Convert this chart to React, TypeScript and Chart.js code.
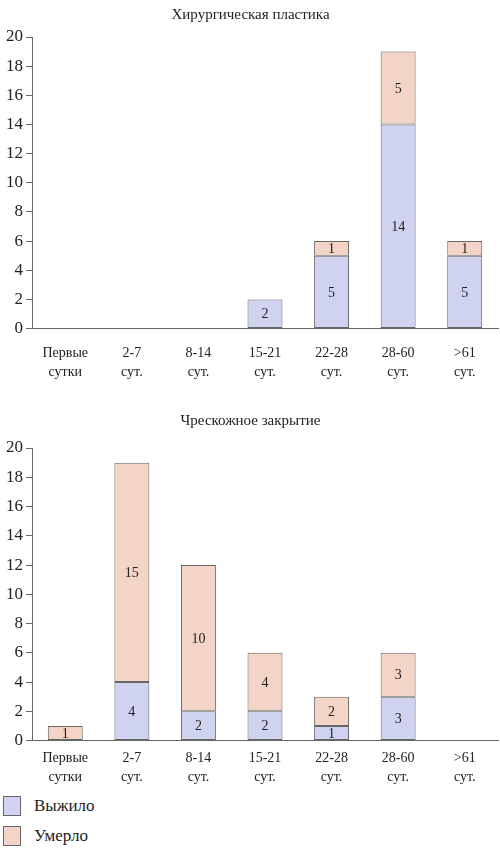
import React, { useEffect, useRef } from "react";
import { Chart, registerables } from "chart.js";

Chart.register(...registerables);

const categories = [
  ["Первые", "сутки"],
  ["2-7", "сут."],
  ["8-14", "сут."],
  ["15-21", "сут."],
  ["22-28", "сут."],
  ["28-60", "сут."],
  [">61", "сут."],
];

const plasticSurvived = [0, 0, 0, 2, 5, 14, 5];
const plasticDied = [0, 0, 0, 0, 1, 5, 1];

const closureSurvived = [0, 4, 2, 2, 1, 3, 0];
const closureDied = [1, 15, 10, 4, 2, 3, 0];

const yTicks = [0, 2, 4, 6, 8, 10, 12, 14, 16, 18, 20];

const FONT = "'Liberation Serif', 'DejaVu Serif', serif";
const BLUE = "#d0d3ef";
const PINK = "#f3d4c7";
const EDGE = "#666";

const barLabels = {
  id: "barLabels",
  afterDatasetsDraw(chart: any) {
    const ctx = chart.ctx;
    ctx.save();
    ctx.font = `14px ${FONT}`;
    ctx.fillStyle = "#222";
    ctx.textAlign = "center";
    ctx.textBaseline = "middle";
    chart.data.datasets.forEach((ds: any, i: number) => {
      chart.getDatasetMeta(i).data.forEach((bar: any, j: number) => {
        const v = ds.data[j];
        if (!v) return;
        ctx.fillText(String(v), bar.x, (bar.y + bar.base) / 2 + 1);
      });
    });
    ctx.restore();
  },
};

interface StackProps {
  title: string;
  survived: number[];
  died: number[];
  titlePad: { top: number; bottom: number };
  labelPad: number;
}

const StackChart: React.FC<StackProps> = ({ title, survived, died, titlePad, labelPad }) => {
  const canvasRef = useRef<HTMLCanvasElement | null>(null);
  const chartRef = useRef<Chart | null>(null);

  useEffect(() => {
    const ctx = canvasRef.current?.getContext("2d");
    if (!ctx) return;
    if (chartRef.current) chartRef.current.destroy();

    const edgeWidth = (c: any) => (c.raw ? 1 : 0);

    chartRef.current = new Chart(ctx, {
      type: "bar",
      data: {
        labels: categories,
        datasets: [
          {
            label: "Выжило",
            data: survived,
            backgroundColor: BLUE,
            borderColor: EDGE,
            borderWidth: edgeWidth,
            borderSkipped: false,
          },
          {
            label: "Умерло",
            data: died,
            backgroundColor: PINK,
            borderColor: EDGE,
            borderWidth: edgeWidth,
            borderSkipped: false,
          },
        ],
      },
      options: {
        animation: false,
        responsive: true,
        maintainAspectRatio: false,
        layout: { padding: { left: 3, right: 2, top: 0, bottom: 0 } },
        datasets: { bar: { barPercentage: 0.525, categoryPercentage: 1 } },
        plugins: {
          legend: { display: false },
          tooltip: { enabled: false },
          title: {
            display: true,
            text: title,
            color: "#222",
            font: { family: FONT, size: 15, weight: "normal" },
            padding: titlePad,
          },
        },
        scales: {
          x: {
            stacked: true,
            grid: { display: false, drawTicks: false },
            border: { display: true, color: "#666", width: 1 },
            ticks: {
              color: "#222",
              padding: labelPad,
              font: { family: FONT, size: 14, lineHeight: 1.3 },
              maxRotation: 0,
              autoSkip: false,
            },
          },
          y: {
            stacked: true,
            min: 0,
            max: 20,
            afterBuildTicks: (axis: any) => {
              axis.ticks = yTicks.map((v) => ({ value: v }));
            },
            grid: { drawOnChartArea: false, drawTicks: true, tickLength: 6, color: "#666" },
            border: { display: true, color: "#666", width: 1 },
            ticks: {
              color: "#222",
              padding: 3,
              font: { family: FONT, size: 17 },
            },
          },
        },
      },
      plugins: [barLabels],
    });

    return () => {
      if (chartRef.current) {
        chartRef.current.destroy();
        chartRef.current = null;
      }
    };
  }, [title, survived, died]);

  return <canvas ref={canvasRef}></canvas>;
};

const LegendItem: React.FC<{ color: string; text: string; top: number }> = ({ color, text, top }) => (
  <div style={{ position: "absolute", left: 3, top, height: 20, display: "flex", alignItems: "center" }}>
    <div style={{ width: 16, height: 18, background: color, border: `1px solid ${EDGE}` }} />
    <span style={{ marginLeft: 13, fontFamily: FONT, fontSize: 17, color: "#222" }}>{text}</span>
  </div>
);

export default function App() {
  return (
    <div style={{ position: "absolute", left: 0, top: 0, width: 500, height: 850, background: "#fff" }}>
      <div style={{ position: "absolute", left: 0, top: 0, width: 500, height: 397 }}>
        <StackChart
          title="Хирургическая пластика"
          survived={plasticSurvived}
          died={plasticDied}
          titlePad={{ top: 6, bottom: 13 }}
          labelPad={16}
        />
      </div>
      <div style={{ position: "absolute", left: 0, top: 405, width: 500, height: 390 }}>
        <StackChart
          title="Чрескожное закрытие"
          survived={closureSurvived}
          died={closureDied}
          titlePad={{ top: 7, bottom: 18 }}
          labelPad={9}
        />
      </div>
      <LegendItem color={BLUE} text="Выжило" top={796} />
      <LegendItem color={PINK} text="Умерло" top={826} />
    </div>
  );
}
